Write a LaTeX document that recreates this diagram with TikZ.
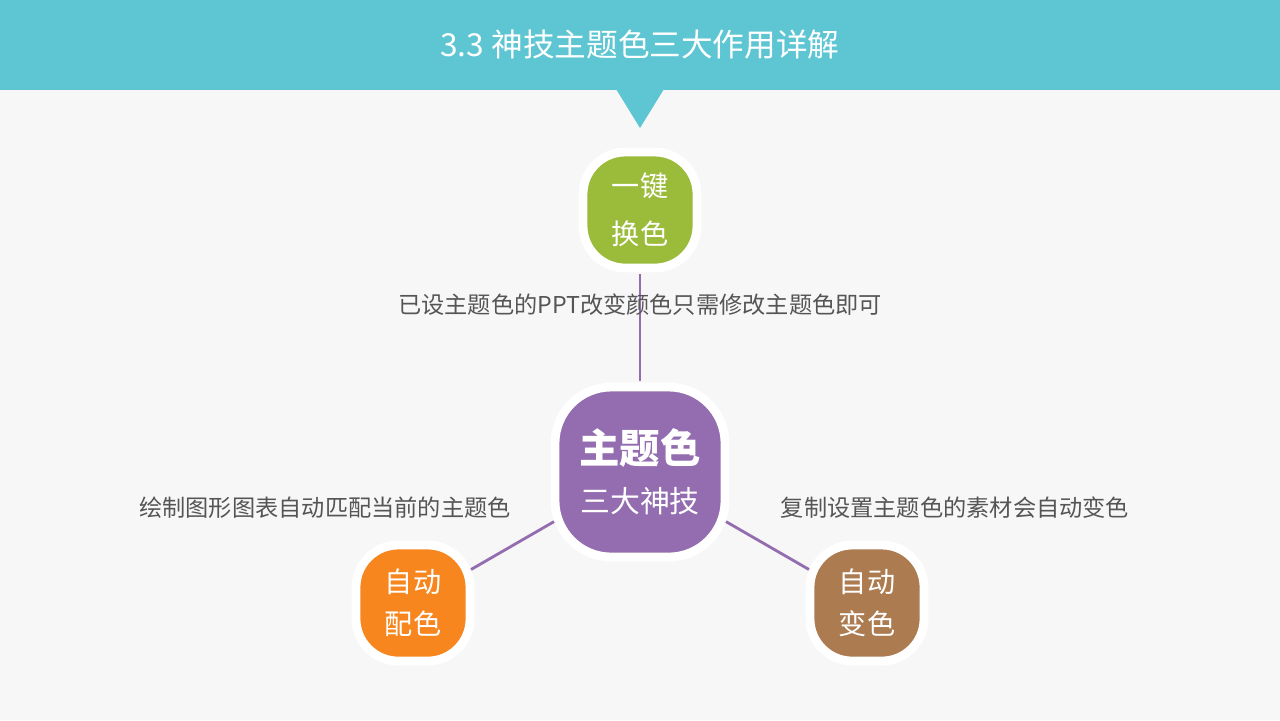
\documentclass[tikz,border=0pt]{standalone}
\usepackage{fontspec}
\usetikzlibrary{calc}
\newfontfamily\cjk{Noto Sans CJK SC}
\definecolor{bg}{HTML}{F7F7F7}
\definecolor{teal}{HTML}{5EC6D3}
\definecolor{grn}{HTML}{9BBB3B}
\definecolor{pur}{HTML}{946DB0}
\definecolor{org}{HTML}{F7861E}
\definecolor{brn}{HTML}{AC7B50}
\definecolor{txt}{HTML}{555555}
\tikzset{
 box/.style={draw=white,line width=2.5pt,rounded corners=12pt,text=white,align=center,inner sep=0pt,font=\cjk\fontsize{8}{12}\selectfont},
 lbl/.style={text=txt,font=\cjk\fontsize{6.6}{8}\selectfont},
 conn/.style={draw=pur,line width=0.8pt}
}
\begin{document}
\begin{tikzpicture}[x=0.01cm,y=-0.01cm]
\fill[bg] (0,0) rectangle (1280,720);
\useasboundingbox (0,0) rectangle (1280,720);
\fill[teal] (0,0) rectangle (1280,90);
\fill[teal] (616,89) -- (664,89) -- (640,128) -- cycle;
\node[text=white,font=\cjk\fontsize{9}{11}\selectfont] (title) at (640,44) {3.3 神技主题色三大作用详解};
\path[box,fill=grn] (583,152) rectangle (697,268);
\node[box,draw=none,minimum width=1.14cm,minimum height=1.16cm,font=\cjk\fontsize{8}{13.5}\selectfont] (g) at (640,210) {一键\\换色};
\path[box,fill=pur,rounded corners=16pt] (555,387) rectangle (725,557);
\node[box,draw=none,minimum width=1.7cm,minimum height=1.7cm] (c) at (640,472) {\fontsize{11.5}{15}\selectfont\bfseries 主题色\\[2pt]\fontsize{8.5}{11}\selectfont 三大神技};
\path[box,fill=org] (356,545) rectangle (470,661);
\node[box,draw=none,minimum width=1.14cm,minimum height=1.16cm,font=\cjk\fontsize{8}{12}\selectfont] (o) at (413,603) {自动\\配色};
\path[box,fill=brn] (810,545) rectangle (924,661);
\node[box,draw=none,minimum width=1.14cm,minimum height=1.16cm,font=\cjk\fontsize{8}{12}\selectfont] (b) at (867,603) {自动\\变色};
\draw[conn] ($(g.south)+(0,2)$) -- ($(c.north)+(0,-2)$);
\draw[conn] ($(c)+(-86,49.6)$) -- ($(o)+(58,-33.5)$);
\draw[conn] ($(c)+(86,49.6)$) -- ($(b)+(-58,-33.5)$);
\node[lbl] (l1) at (640,305) {已设主题色的PPT改变颜色只需修改主题色即可};
\node[lbl] (l2) at (325,508) {绘制图形图表自动匹配当前的主题色};
\node[lbl] (l3) at (955,508) {复制设置主题色的素材会自动变色};
\end{tikzpicture}
\end{document}
